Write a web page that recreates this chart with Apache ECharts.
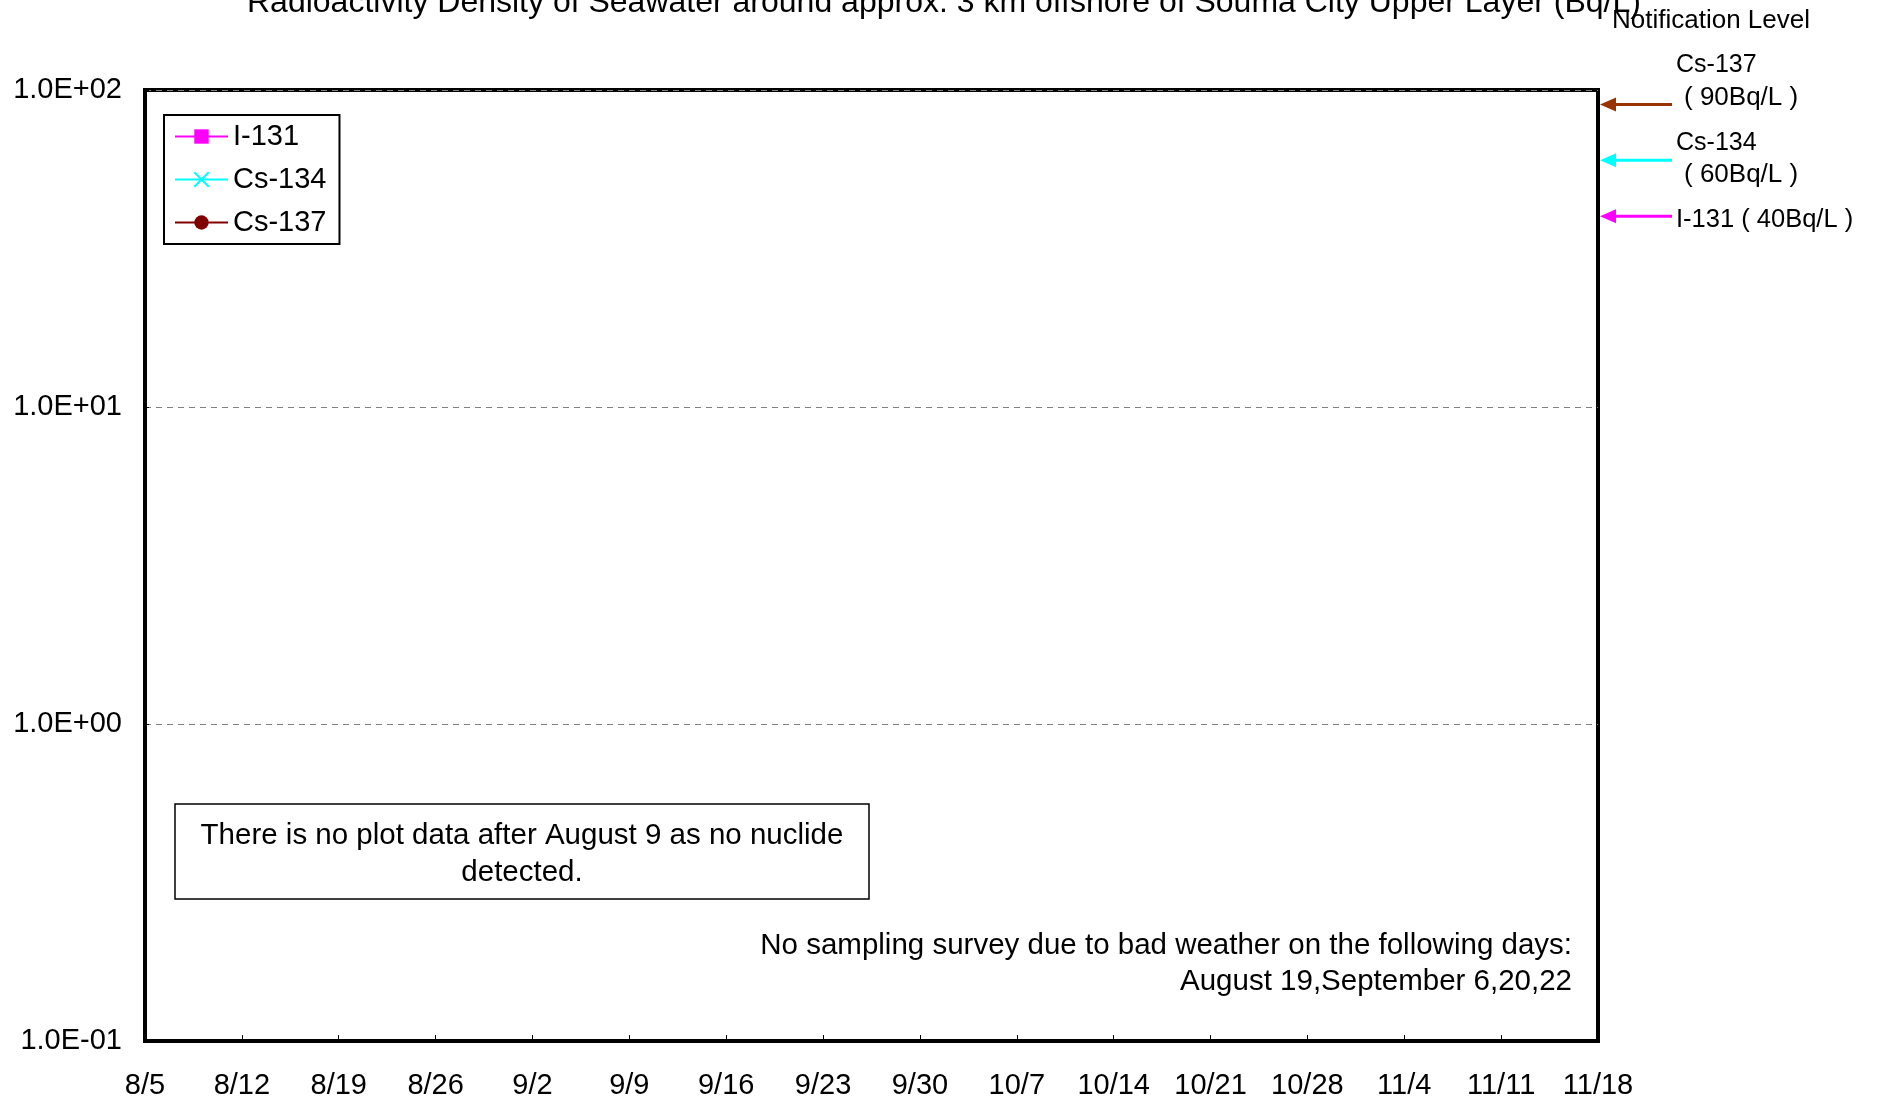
<!DOCTYPE html>
<html>
<head>
<meta charset="utf-8">
<script src="https://cdn.jsdelivr.net/npm/echarts@6/dist/echarts.min.js"></script>
<style>
html,body{margin:0;padding:0;background:#fff;}
#chart{width:1877px;height:1100px;}
</style>
</head>
<body>
<div id="chart"></div>
<script>
// ---- data ----
const titleText = 'Radioactivity Density of Seawater around approx. 3 km offshore of Souma City Upper Layer (Bq/L)';
const dayStart = 217;   // Aug 5, 2011 (day of year)
const dayEnd = 322;     // Nov 18, 2011
const dayStep = 7;
const xTickLabels = ['8/5','8/12','8/19','8/26','9/2','9/9','9/16','9/23','9/30','10/7','10/14','10/21','10/28','11/4','11/11','11/18'];
const yTickLabels = {0.1:'1.0E-01', 1:'1.0E+00', 10:'1.0E+01', 100:'1.0E+02'};
const seriesNames = ['I-131','Cs-134','Cs-137'];
const i131 = [];   // no nuclide detected
const cs134 = [];
const cs137 = [];
const levelNames = ['Cs-137','Cs-134','I-131'];
const levelValues = [90, 60, 40];
const noteBox = 'There is no plot data after August 9 as no nuclide\ndetected.';
const noteWeather = 'No sampling survey due to bad weather on the following days:\nAugust 19,September 6,20,22';

const FONT = "'Liberation Sans', Arial, sans-serif";
const chart = echarts.init(document.getElementById('chart'), null, {renderer:'canvas'});

const option = {
  backgroundColor: '#ffffff',
  animation: false,
  textStyle: {fontFamily: FONT},
  title: {
    text: titleText,
    left: 242, top: -18,
    textStyle: {fontFamily: FONT, fontSize: 32, fontWeight: 'normal', color: '#000'}
  },
  grid: {
    left: 145, right: 279, top: 90, bottom: 59,
    show: true, borderColor: '#000', borderWidth: 4, backgroundColor: 'transparent'
  },
  legend: {
    orient: 'vertical',
    left: 164, top: 115,
    padding: [6, 13, 6, 10],
    borderColor: '#000', borderWidth: 2,
    itemWidth: 53, itemHeight: 18, itemGap: 12, itemTextGap: 8,
    textStyle: {fontFamily: FONT, fontSize: 29, color: '#000', lineHeight: 31},
    data: seriesNames
  },
  xAxis: {
    type: 'value',
    min: dayStart, max: dayEnd, interval: dayStep,
    axisLine: {show: true, lineStyle: {color: '#000', width: 4}},
    axisTick: {show: true, inside: true, length: 6, lineStyle: {color: '#000', width: 1}},
    splitLine: {show: false},
    axisLabel: {
      margin: 30, fontSize: 29, color: '#000', fontFamily: FONT,
      formatter: v => xTickLabels[Math.round((v - dayStart) / dayStep)] || ''
    }
  },
  yAxis: {
    type: 'log', logBase: 10, min: 0.1, max: 100,
    axisLine: {show: true, lineStyle: {color: '#000', width: 4}},
    axisTick: {show: true, inside: true, length: 4, lineStyle: {color: '#000', width: 1}},
    minorTick: {show: false},
    splitLine: {show: true, lineStyle: {color: '#808080', type: [6, 5], width: 1}},
    axisLabel: {
      margin: 23, fontSize: 29, color: '#000', fontFamily: FONT,
      formatter: v => {
        const keys = Object.keys(yTickLabels);
        for (const k of keys) { if (Math.abs(Math.log10(v) - Math.log10(+k)) < 1e-6) return yTickLabels[k]; }
        return '';
      }
    }
  },
  series: [
    {name: 'I-131', type: 'line', data: i131, symbol: 'rect', symbolSize: 12,
     lineStyle: {color: '#FF00FF', width: 2}, itemStyle: {color: '#FF00FF'}},
    {name: 'Cs-134', type: 'line', data: cs134, symbol: 'path://M0,0L10,10M10,0L0,10', symbolSize: 12,
     lineStyle: {color: '#00FFFF', width: 2}, itemStyle: {color: '#00FFFF', borderColor: '#00FFFF', borderWidth: 2}},
    {name: 'Cs-137', type: 'line', data: cs137, symbol: 'circle', symbolSize: 12,
     lineStyle: {color: '#800000', width: 2}, itemStyle: {color: '#800000'}}
  ]
};
chart.setOption(option);

// ---- annotations, arrows positioned through the y axis scale ----
const levelColors = ['#993300', '#00FFFF', '#FF00FF'];
const graphics = [];
const axisX = 1600;
levelValues.forEach((val, i) => {
  const y = chart.convertToPixel({yAxisIndex: 0}, val);
  graphics.push({type: 'line', shape: {x1: axisX + 14, y1: y, x2: axisX + 72, y2: y},
    style: {stroke: levelColors[i], lineWidth: 3}, silent: true});
  graphics.push({type: 'polygon', shape: {points: [[axisX, y], [axisX + 16, y - 7], [axisX + 16, y + 7]]},
    style: {fill: levelColors[i]}, silent: true});
});
const annStyle = (text, x, y, size, align) => ({
  type: 'text', x: x, y: y, silent: true,
  style: {text: text, fill: '#000', font: size + 'px ' + FONT, textAlign: align || 'left', textVerticalAlign: 'middle'}
});
graphics.push(annStyle('Notification Level', 1612, 20.5, 26));
graphics.push(annStyle(levelNames[0], 1676, 65.5, 25));
graphics.push(annStyle('( ' + levelValues[0] + 'Bq/L )', 1684, 97.5, 26));
graphics.push(annStyle(levelNames[1], 1676, 143.5, 25));
graphics.push(annStyle('( ' + levelValues[1] + 'Bq/L )', 1684, 174.5, 26));
graphics.push(annStyle(levelNames[2] + ' ( ' + levelValues[2] + 'Bq/L )', 1676, 219.5, 25.5));
// note box
graphics.push({type: 'rect', shape: {x: 175, y: 804, width: 694, height: 95},
  style: {fill: '#fff', stroke: '#000', lineWidth: 1.5}, silent: true});
graphics.push({type: 'text', x: 522, y: 854, silent: true,
  style: {text: noteBox, fill: '#000', font: '29.5px ' + FONT, textAlign: 'center', textVerticalAlign: 'middle', lineHeight: 37}});
graphics.push({type: 'text', x: 1572, y: 963.5, silent: true,
  style: {text: noteWeather, fill: '#000', font: '29.5px ' + FONT, textAlign: 'right', textVerticalAlign: 'middle', lineHeight: 36}});
chart.setOption({graphic: graphics});
</script>
</body>
</html>
